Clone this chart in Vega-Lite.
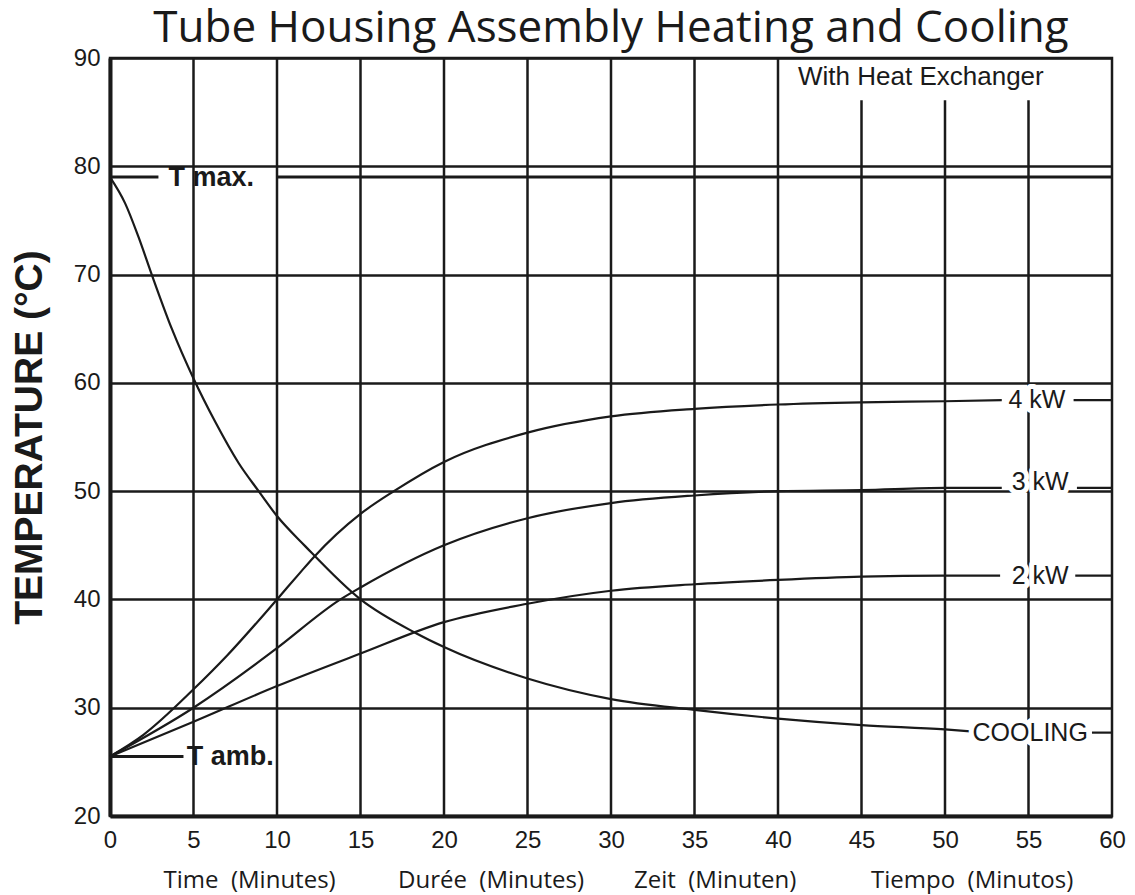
{
  "$schema": "https://vega.github.io/schema/vega-lite/v6.json",
  "width": 1002,
  "height": 758,
  "autosize": {"type": "none"},
  "padding": {"left": 110, "top": 58, "right": 23, "bottom": 79},
  "background": "white",
  "config": {
    "view": {"stroke": "#1a1a1a", "strokeWidth": 2.5},
    "font": "Liberation Sans"
  },
  "title": {
    "text": "Tube Housing Assembly Heating and Cooling",
    "font": "Open Sans",
    "fontSize": 44,
    "fontWeight": "normal",
    "color": "#1a1a1a",
    "anchor": "middle",
    "baseline": "alphabetic",
    "offset": 3,
    "dy": 43
  },
  "datasets": {
    "vgrid": [
      {"t": 5, "top": 90}, {"t": 10, "top": 90}, {"t": 15, "top": 90}, {"t": 20, "top": 90},
      {"t": 25, "top": 90}, {"t": 30, "top": 90}, {"t": 35, "top": 90}, {"t": 40, "top": 90},
      {"t": 45, "top": 86.1}, {"t": 50, "top": 86.1}, {"t": 55, "top": 86.1}
    ],
    "refs": [
      {"name": "T max", "t1": 0, "t2": 2.9, "temp": 79},
      {"name": "T max", "t1": 10, "t2": 60, "temp": 79},
      {"name": "T amb", "t1": 0, "t2": 4.4, "temp": 25.5}
    ],
    "curves": [
      {"seg": "cool", "t": 0, "temp": 79},
      {"seg": "cool", "t": 0.9, "temp": 76.6},
      {"seg": "cool", "t": 1.7, "temp": 73.5},
      {"seg": "cool", "t": 2.5, "temp": 70},
      {"seg": "cool", "t": 3.7, "temp": 65},
      {"seg": "cool", "t": 5, "temp": 60.4},
      {"seg": "cool", "t": 6.3, "temp": 56.4},
      {"seg": "cool", "t": 7.7, "temp": 52.6},
      {"seg": "cool", "t": 8.9, "temp": 50},
      {"seg": "cool", "t": 10, "temp": 47.7},
      {"seg": "cool", "t": 11.7, "temp": 44.9},
      {"seg": "cool", "t": 15, "temp": 40},
      {"seg": "cool", "t": 18.3, "temp": 36.9},
      {"seg": "cool", "t": 20, "temp": 35.6},
      {"seg": "cool", "t": 25, "temp": 32.7},
      {"seg": "cool", "t": 30, "temp": 30.8},
      {"seg": "cool", "t": 35, "temp": 29.8},
      {"seg": "cool", "t": 40, "temp": 29},
      {"seg": "cool", "t": 45, "temp": 28.4},
      {"seg": "cool", "t": 50, "temp": 28},
      {"seg": "cool", "t": 51.7, "temp": 27.8},
      {"seg": "cool tail", "t": 58.8, "temp": 27.7},
      {"seg": "cool tail", "t": 60, "temp": 27.7},
      {"seg": "4kW", "t": 0, "temp": 25.5},
      {"seg": "4kW", "t": 2, "temp": 27.5},
      {"seg": "4kW", "t": 5, "temp": 31.7},
      {"seg": "4kW", "t": 7, "temp": 34.8},
      {"seg": "4kW", "t": 10, "temp": 40},
      {"seg": "4kW", "t": 11.4, "temp": 42.5},
      {"seg": "4kW", "t": 12.2, "temp": 43.9},
      {"seg": "4kW", "t": 15, "temp": 47.9},
      {"seg": "4kW", "t": 17, "temp": 50},
      {"seg": "4kW", "t": 20, "temp": 52.7},
      {"seg": "4kW", "t": 25, "temp": 55.4},
      {"seg": "4kW", "t": 30, "temp": 56.9},
      {"seg": "4kW", "t": 35, "temp": 57.6},
      {"seg": "4kW", "t": 40, "temp": 58},
      {"seg": "4kW", "t": 45, "temp": 58.2},
      {"seg": "4kW", "t": 50, "temp": 58.3},
      {"seg": "4kW", "t": 53.4, "temp": 58.4},
      {"seg": "4kW tail", "t": 57.7, "temp": 58.4},
      {"seg": "4kW tail", "t": 60, "temp": 58.4},
      {"seg": "3kW", "t": 0, "temp": 25.5},
      {"seg": "3kW", "t": 5, "temp": 30},
      {"seg": "3kW", "t": 9.4, "temp": 34.8},
      {"seg": "3kW", "t": 10, "temp": 35.5},
      {"seg": "3kW", "t": 13.8, "temp": 40},
      {"seg": "3kW", "t": 15, "temp": 41.1},
      {"seg": "3kW", "t": 20, "temp": 45},
      {"seg": "3kW", "t": 25, "temp": 47.5},
      {"seg": "3kW", "t": 30, "temp": 48.9},
      {"seg": "3kW", "t": 35, "temp": 49.6},
      {"seg": "3kW", "t": 40, "temp": 50},
      {"seg": "3kW", "t": 45, "temp": 50.1},
      {"seg": "3kW", "t": 50, "temp": 50.3},
      {"seg": "3kW", "t": 53.4, "temp": 50.3},
      {"seg": "3kW tail", "t": 57.9, "temp": 50.3},
      {"seg": "3kW tail", "t": 60, "temp": 50.3},
      {"seg": "2kW", "t": 0, "temp": 25.5},
      {"seg": "2kW", "t": 5, "temp": 28.7},
      {"seg": "2kW", "t": 10, "temp": 32},
      {"seg": "2kW", "t": 15, "temp": 35},
      {"seg": "2kW", "t": 20, "temp": 37.9},
      {"seg": "2kW", "t": 25, "temp": 39.6},
      {"seg": "2kW", "t": 30, "temp": 40.8},
      {"seg": "2kW", "t": 35, "temp": 41.4},
      {"seg": "2kW", "t": 40, "temp": 41.8},
      {"seg": "2kW", "t": 45, "temp": 42.1},
      {"seg": "2kW", "t": 50, "temp": 42.2},
      {"seg": "2kW", "t": 53.3, "temp": 42.2},
      {"seg": "2kW tail", "t": 57.8, "temp": 42.2},
      {"seg": "2kW tail", "t": 60, "temp": 42.2}
    ],
    "inlineLabels": [
      {"label": "4 kW", "t": 55.5, "temp": 58.4},
      {"label": "3 kW", "t": 55.7, "temp": 50.8},
      {"label": "2 kW", "t": 55.7, "temp": 42.2},
      {"label": "COOLING", "t": 55.1, "temp": 27.7}
    ],
    "refLabels": [
      {"label": "T max.", "t": 3.5, "temp": 79},
      {"label": "T amb.", "t": 4.6, "temp": 25.5}
    ],
    "notes": [
      {"label": "With Heat Exchanger", "t": 41.2, "temp": 88.2}
    ]
  },
  "layer": [
    {
      "data": {"name": "vgrid"},
      "mark": {"type": "rule", "color": "#1a1a1a", "strokeWidth": 2.5},
      "encoding": {
        "x": {
          "field": "t", "type": "quantitative",
          "scale": {"domain": [0, 60], "nice": false, "zero": false},
          "axis": {
            "values": [0, 5, 10, 15, 20, 25, 30, 35, 40, 45, 50, 55, 60],
            "grid": false, "ticks": false, "tickSize": 0,
            "domainColor": "#1a1a1a", "domainWidth": 4,
            "labelFont": "Liberation Sans", "labelFontSize": 24, "labelColor": "#1a1a1a",
            "labelPadding": 12, "labelFlush": false, "labelOverlap": false,
            "title": "Time\u00a0\u00a0(Minutes)\u00a0\u00a0\u00a0\u00a0\u00a0\u00a0\u00a0\u00a0\u00a0\u00a0Durée\u00a0\u00a0(Minutes)\u00a0\u00a0\u00a0\u00a0\u00a0\u00a0\u00a0\u00a0Zeit\u00a0\u00a0(Minuten)\u00a0\u00a0\u00a0\u00a0\u00a0\u00a0\u00a0\u00a0\u00a0\u00a0\u00a0\u00a0Tiempo\u00a0\u00a0(Minutos)",
            "titleFont": "Open Sans", "titleFontSize": 24, "titleFontWeight": "normal",
            "titleColor": "#1a1a1a", "titleAnchor": "start", "titleAlign": "left",
            "titleX": 53, "titleY": 71, "titleBaseline": "alphabetic"
          }
        },
        "y": {
          "field": "top", "type": "quantitative",
          "scale": {"domain": [20, 90], "nice": false, "zero": false},
          "axis": {
            "values": [20, 30, 40, 50, 60, 70, 80, 90],
            "grid": true, "gridColor": "#1a1a1a", "gridWidth": 2.5, "gridOpacity": 1,
            "ticks": false, "tickSize": 0,
            "domainColor": "#1a1a1a", "domainWidth": 4,
            "labelFont": "Liberation Sans", "labelFontSize": 24, "labelColor": "#1a1a1a",
            "labelPadding": 10,
            "title": "TEMPERATURE (°C)",
            "titleFont": "Liberation Sans", "titleFontSize": 39, "titleFontWeight": "bold",
            "titleColor": "#1a1a1a", "titleAngle": -90, "titleX": -69, "titleY": 379,
            "titleAlign": "center", "titleBaseline": "alphabetic"
          }
        },
        "y2": {"datum": 20}
      }
    },
    {
      "data": {"name": "refs"},
      "mark": {"type": "rule", "color": "#1a1a1a", "strokeWidth": 3},
      "encoding": {
        "x": {"field": "t1", "type": "quantitative"},
        "x2": {"field": "t2"},
        "y": {"field": "temp", "type": "quantitative"}
      }
    },
    {
      "data": {"name": "curves"},
      "mark": {"type": "line", "color": "#1a1a1a", "strokeWidth": 2.2, "interpolate": "monotone"},
      "encoding": {
        "x": {"field": "t", "type": "quantitative"},
        "y": {"field": "temp", "type": "quantitative"},
        "detail": {"field": "seg"}
      }
    },
    {
      "data": {"name": "inlineLabels"},
      "mark": {"type": "text", "font": "Liberation Sans", "fontSize": 25, "align": "center", "baseline": "middle", "fill": "white", "stroke": "white", "strokeWidth": 10, "strokeJoin": "round"},
      "encoding": {
        "x": {"field": "t", "type": "quantitative"},
        "y": {"field": "temp", "type": "quantitative"},
        "text": {"field": "label"}
      }
    },
    {
      "data": {"name": "inlineLabels"},
      "mark": {"type": "text", "font": "Liberation Sans", "fontSize": 25, "align": "center", "baseline": "middle", "color": "#1a1a1a"},
      "encoding": {
        "x": {"field": "t", "type": "quantitative"},
        "y": {"field": "temp", "type": "quantitative"},
        "text": {"field": "label"}
      }
    },
    {
      "data": {"name": "refLabels"},
      "mark": {"type": "text", "font": "Liberation Sans", "fontSize": 27, "fontWeight": "bold", "align": "left", "baseline": "middle", "color": "#1a1a1a", "dy": 1},
      "encoding": {
        "x": {"field": "t", "type": "quantitative"},
        "y": {"field": "temp", "type": "quantitative"},
        "text": {"field": "label"}
      }
    },
    {
      "data": {"name": "notes"},
      "mark": {"type": "text", "font": "Liberation Sans", "fontSize": 26, "align": "left", "baseline": "middle", "color": "#1a1a1a"},
      "encoding": {
        "x": {"field": "t", "type": "quantitative"},
        "y": {"field": "temp", "type": "quantitative"},
        "text": {"field": "label"}
      }
    }
  ]
}
